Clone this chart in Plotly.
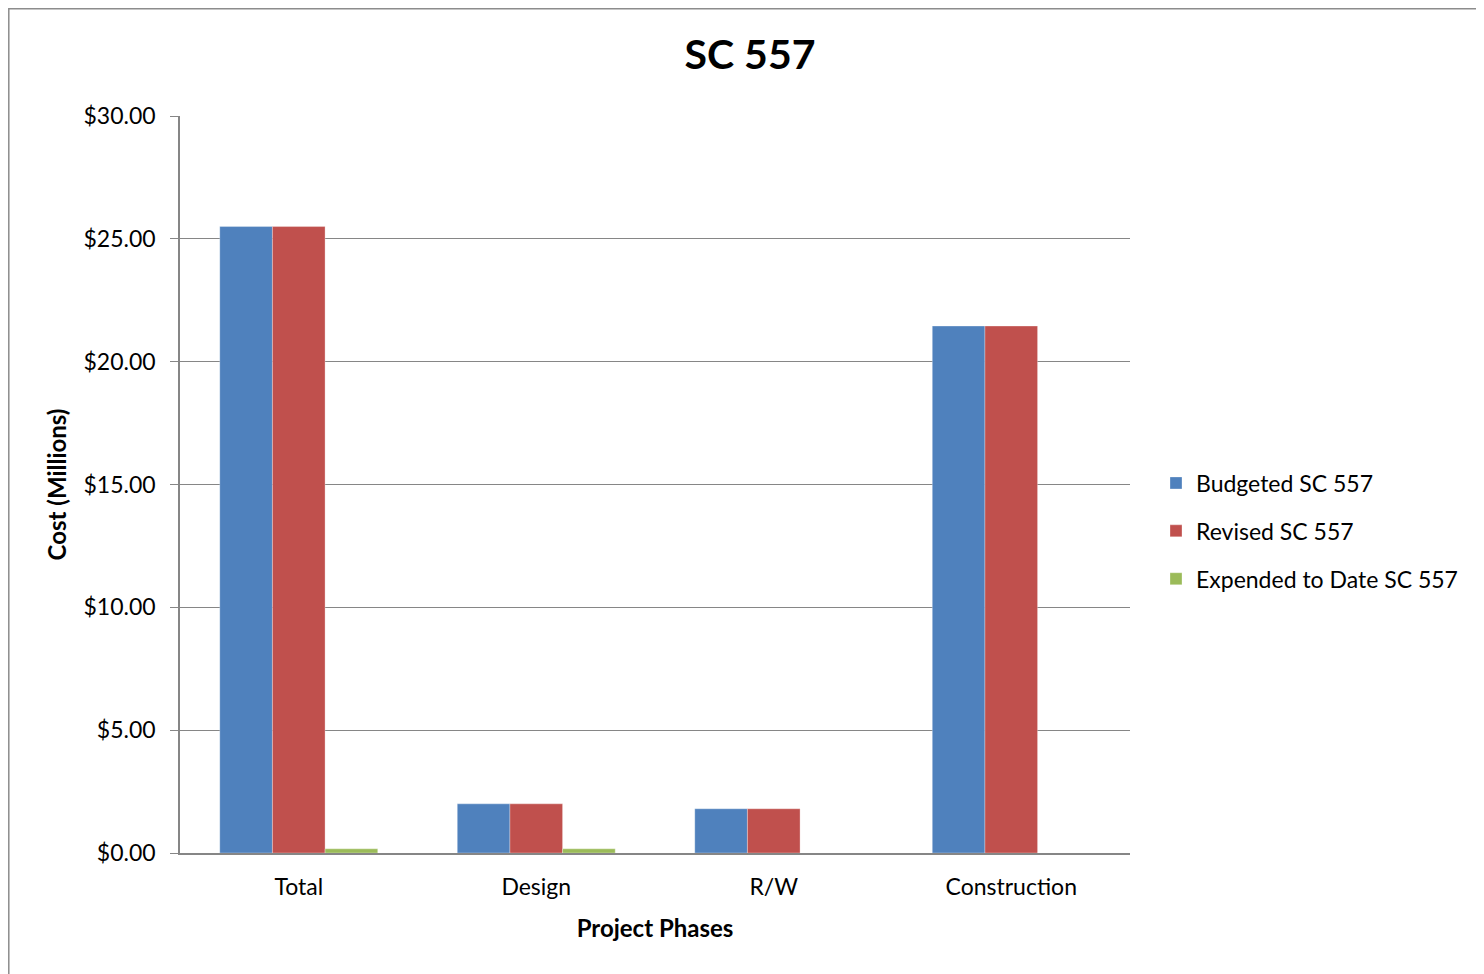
import plotly.graph_objects as go

categories = ["Total", "Design", "R/W", "Construction"]
budgeted = [25.5, 2.0, 1.8, 21.45]
revised = [25.5, 2.0, 1.8, 21.45]
expended = [0.17, 0.17, 0.0, 0.0]
series_names = ["Budgeted SC 557", "Revised SC 557", "Expended to Date SC 557"]
colors = ["#4F81BD", "#C0504D", "#9BBB59"]
tick_vals = [0, 5, 10, 15, 20, 25, 30]
tick_text = ["$0.00", "$5.00", "$10.00", "$15.00", "$20.00", "$25.00", "$30.00"]

FONT = "Lato, Carlito, Calibri, sans-serif"
W, H = 1484, 974
L, T = 172, 108
PW, PH = 950, 737
R = W - L - PW
B = H - T - PH

fig = go.Figure()
for i, (name, vals) in enumerate(zip(series_names, [budgeted, revised, expended])):
    fig.add_trace(go.Bar(
        x=categories, y=vals, name=name,
        marker=dict(color=colors[i], line=dict(color="rgba(255,255,255,0.5)", width=0.6)),
        legendgroup=f"g{i}",
    ))

fig.add_shape(type="rect", xref="paper", yref="paper",
              x0=(0.8 - L) / PW, x1=(W + 20 - L) / PW,
              y0=-(H + 20 - T - PH) / PH, y1=(H - 0.8 - B) / PH,
              line=dict(color="#8c8c8c", width=1.5), fillcolor="rgba(0,0,0,0)", layer="below")

fig.update_layout(
    width=W, height=H,
    margin=dict(l=L, r=R, t=T, b=B),
    paper_bgcolor="white", plot_bgcolor="white",
    barmode="group", bargap=0.335, bargroupgap=0,
    font=dict(family=FONT, size=23, color="black"),
    title=dict(text="<b>SC 557</b>", x=0.5, xanchor="center", y=1 - 47 / H, yanchor="middle",
               font=dict(size=41, family=FONT)),
    legend=dict(x=(1148 - L) / PW, xanchor="left", y=(T + PH - 523) / PH, yanchor="middle",
                font=dict(size=23, family=FONT), tracegroupgap=15,
                bgcolor="rgba(0,0,0,0)"),
    xaxis=dict(showgrid=False, showline=True, linecolor="#868686", linewidth=2,
               ticks="", tickfont=dict(size=23), ticklabelstandoff=12,
               title=dict(text="<b>Project Phases</b>", font=dict(size=24), standoff=22)),
    yaxis=dict(range=[0, 30], tickvals=tick_vals, ticktext=tick_text,
               showgrid=True, gridcolor="#868686", gridwidth=1.3,
               showline=True, linecolor="#868686", linewidth=1.5,
               ticks="outside", ticklen=8, tickcolor="#868686", tickwidth=1.3,
               tickfont=dict(size=23), zeroline=False, ticklabelstandoff=10,
               title=dict(text="<b>Cost (Millions)</b>", font=dict(size=24), standoff=10)),
)

fig.write_html("out.html")
